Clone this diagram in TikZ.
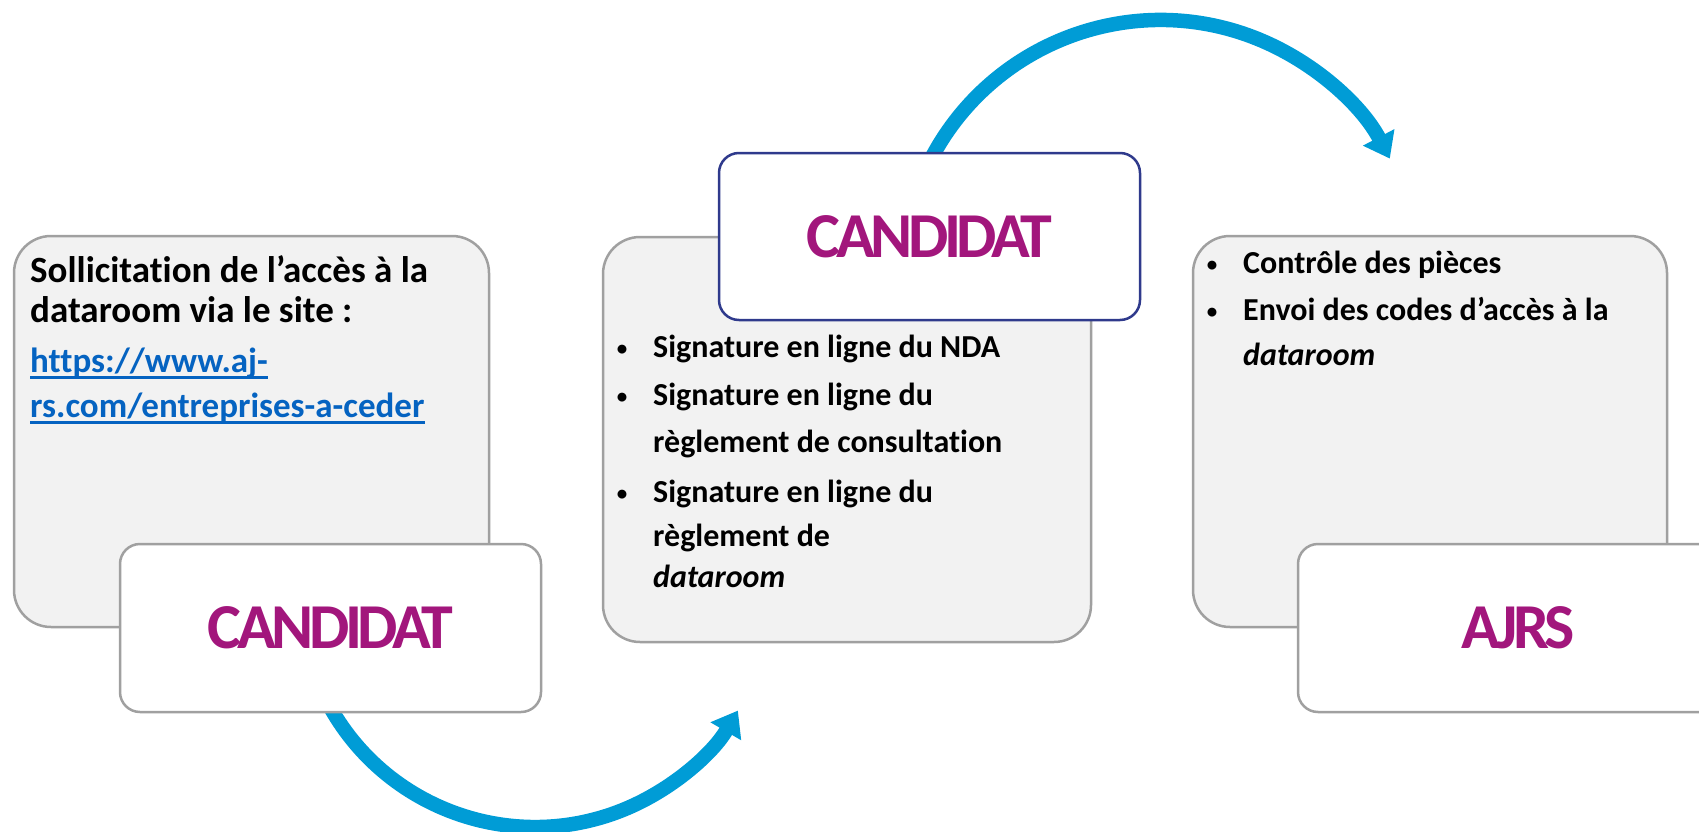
\documentclass[tikz,border=0pt]{standalone}
\usepackage{fontspec}
\setmainfont{Carlito}[Ligatures=NoCommon]
\newfontfamily\condfont[LetterSpace=-7]{Carlito}
\newsavebox{\ulbox}
\newcommand{\ulinktext}[1]{\sbox{\ulbox}{#1}\rlap{\rule[-6.5pt]{\wd\ulbox}{2.4pt}}\usebox{\ulbox}}
\usetikzlibrary{arrows.meta,calc}
\definecolor{arrowblue}{RGB}{0,156,214}
\definecolor{boxgray}{RGB}{242,242,242}
\definecolor{edgegray}{RGB}{160,160,160}
\definecolor{edgeblue}{RGB}{47,58,140}
\definecolor{purp}{RGB}{162,22,124}
\definecolor{linkblue}{RGB}{5,99,193}
\begin{document}
\begin{tikzpicture}[x=1pt,y=-1pt,
  panel/.style={draw=edgegray, fill=boxgray, line width=2.5pt, rounded corners=37pt, inner sep=0pt},
  tagbox/.style={draw=edgegray, fill=white, line width=2.5pt, rounded corners=20pt, inner sep=0pt,
    minimum height=168pt, font=\condfont\bfseries\fontsize{64}{70}\selectfont, text=purp},
  flow/.style={draw=arrowblue, line width=14.5pt, -{Triangle[length=24pt,width=34pt]}},
  big/.style={anchor=base west, inner sep=0pt, font=\bfseries\fontsize{37}{40}\selectfont},
  link/.style={anchor=base west, inner sep=0pt, text=linkblue, font=\bfseries\fontsize{35}{40}\selectfont},
  body/.style={anchor=base west, inner sep=0pt, font=\bfseries\fontsize{32}{38}\selectfont},
  dot/.style={anchor=base, inner sep=0pt, font=\bfseries\fontsize{21}{24}\selectfont},
]
\useasboundingbox (0,0) rectangle (1699,832);
\clip (0,0) rectangle (1699,832);
\coordinate (c1) at (535,592);
\coordinate (c2) at (1160.5,279);
% panels
\node[panel, minimum width=475pt, minimum height=391pt] (g1) at (251.5,431.5) {};
\node[panel, minimum width=488pt, minimum height=405pt] (g2) at (847,439.5) {};
\node[panel, minimum width=474pt, minimum height=391pt] (g3) at (1430,431.5) {};
% arrows (beneath the tag boxes)
\draw[flow] ([shift={(155:235)}]c1) arc[start angle=155, end angle=30.3, radius=235];
\draw[flow] ([shift={(204:259)}]c2) arc[start angle=204, end angle=332.3, radius=259];
% tag boxes
\node[tagbox, minimum width=421pt] (w1) at (330.5,628) {CANDIDAT};
\node[tagbox, draw=edgeblue, minimum width=421pt, minimum height=167pt] (w2) at (929.5,236.5) {CANDIDAT};
\node[tagbox, minimum width=440pt] (w3) at (1518,628) {AJRS};
% box 1 text
\node[big] (s1) at (30,282) {Sollicitation de l’accès à la};
\node[big] (s2) at (30,322) {dataroom via le site :};
\node[link] (s3) at (30,372) {\ulinktext{https://www.aj-}};
\node[link] (s4) at (30,417) {\ulinktext{rs.com/entreprises-a-ceder}};
% box 2 text
\node[dot] (b1) at (622,355) {•};
\node[body] (m1) at (653,357) {Signature en ligne du NDA};
\node[dot] (b2) at (622,403) {•};
\node[body] (m2) at (653,405) {Signature en ligne du};
\node[body] (m3) at (653,452) {règlement de consultation};
\node[dot] (b3) at (622,500) {•};
\node[body] (m4) at (653,502) {Signature en ligne du};
\node[body] (m5) at (653,546) {règlement de};
\node[body] (m6) at (653,587) {\itshape dataroom};
% box 3 text
\node[dot] (b4) at (1212,271) {•};
\node[body] (r1) at (1243,273) {Contrôle des pièces};
\node[dot] (b5) at (1212,318) {•};
\node[body] (r2) at (1243,320) {Envoi des codes d’accès à la};
\node[body] (r3) at (1243,365) {\itshape dataroom};
\end{tikzpicture}
\end{document}
